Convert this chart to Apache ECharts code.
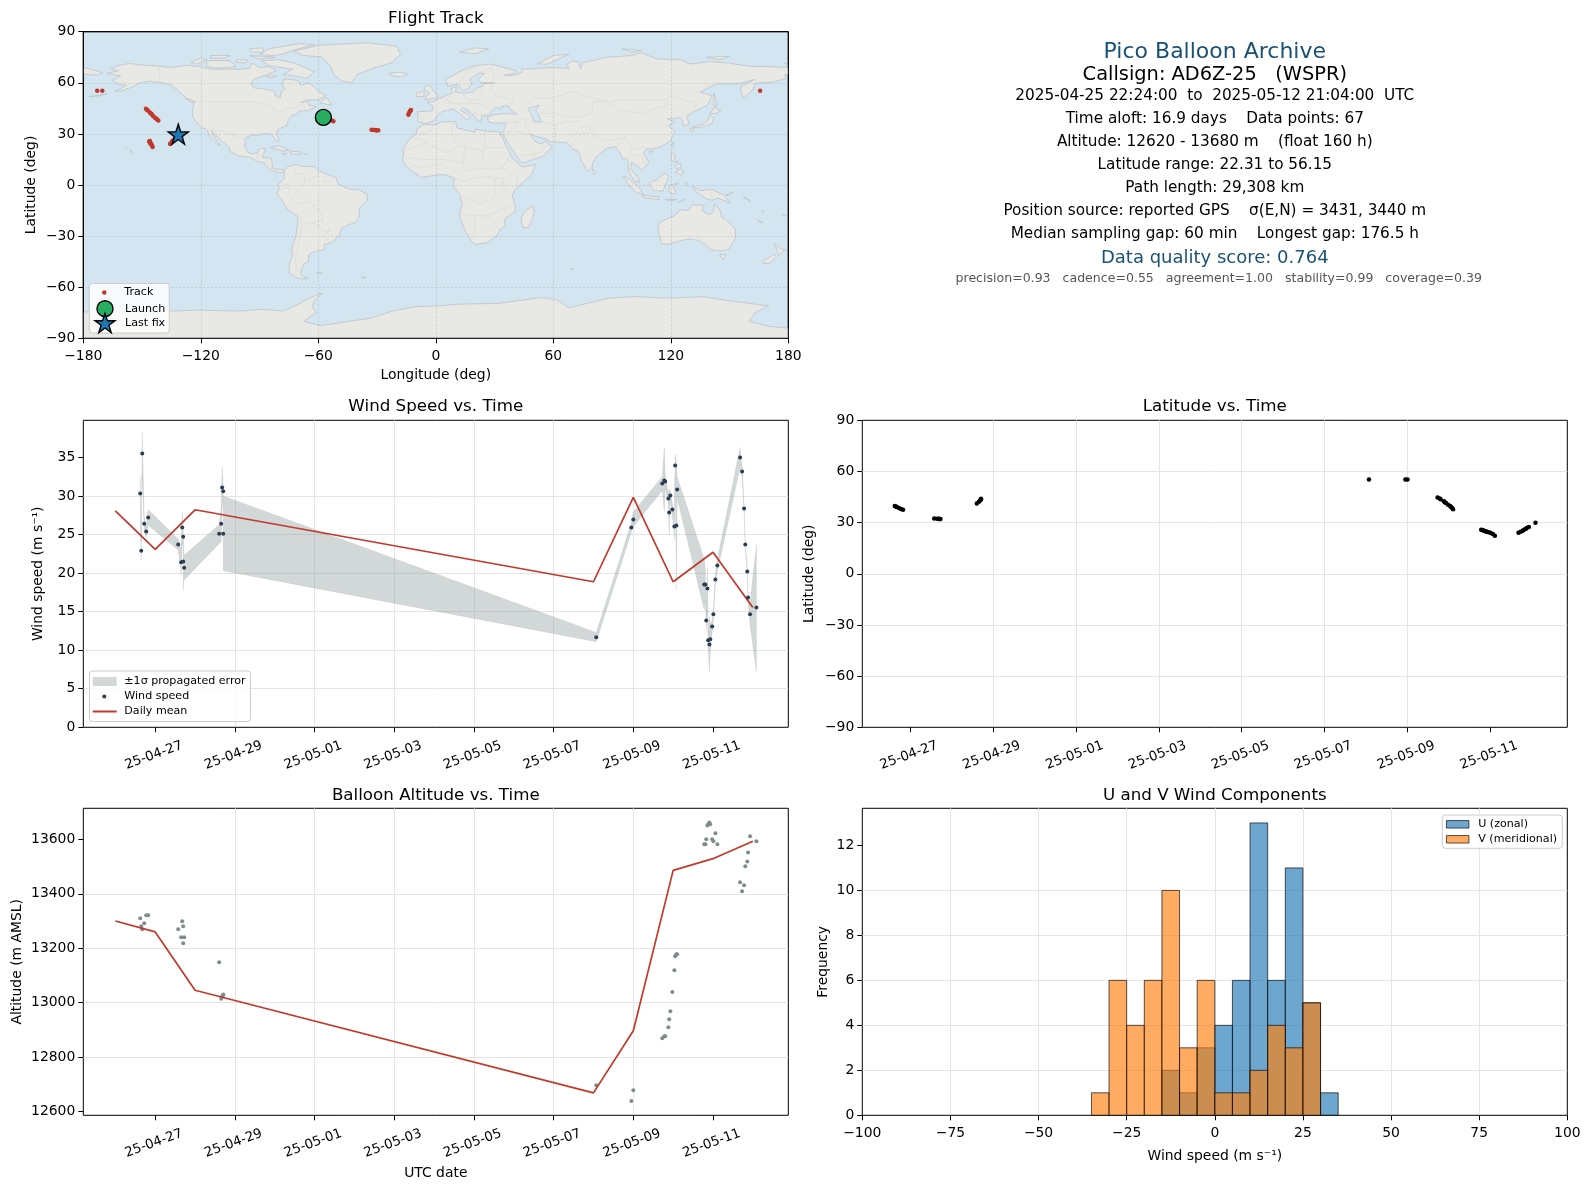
<!DOCTYPE html>
<html><head><meta charset="utf-8">
<style>html,body{margin:0;padding:0;background:#fff}#c{width:1590px;height:1189px}</style>
<script src="https://cdn.jsdelivr.net/npm/echarts@6/dist/echarts.min.js"></script>
</head><body><div id="c"></div>
<script>
// ---------- DATA ----------
const timeTickLabels = ['25-04-27','25-04-29','25-05-01','25-05-03','25-05-05','25-05-07','25-05-09','25-05-11'];
const windTicks = [0,5,10,15,20,25,30,35];
const altTicks = [12600,12800,13000,13200,13400,13600];
const freqTicks = [0,2,4,6,8,10,12];
// observation time, days after 2025-04-27 00:00 UTC
const obsDays = [-0.376,-0.351,-0.326,-0.276,-0.226,-0.176,0.577,0.652,0.677,0.702,0.703,0.727,1.605,1.656,1.68,1.706,1.707,
 11.07,11.95,12.0,12.727,12.778,12.80,12.88,12.90,12.93,12.98,13.03,13.05,13.08,13.10,
 13.78,13.81,13.83,13.86,13.88,13.91,13.93,13.98,14.01,14.06,14.11,
 14.68,14.73,14.78,14.81,14.86,14.88,14.93,15.09];
const windSpeed = [30.3,22.9,35.5,26.4,25.4,27.2,23.7,21.4,25.9,24.7,21.5,20.7,25.1,26.4,31.1,30.6,25.1,
 11.66,25.9,26.94,31.6,32.0,31.87,29.66,27.85,30.05,28.24,26.04,33.94,26.17,30.83,
 18.52,18.52,13.86,18.0,11.27,10.75,11.4,13.08,14.64,19.17,20.98,
 34.97,33.16,28.37,23.7,20.2,16.84,14.64,15.54];
const windLow = [28.1,21.6,32.7,25.5,24.6,26.2,23.0,19.7,23.9,23.3,17.7,19.1,23.8,24.1,28.5,29.6,20.3,
 11.1,25.3,26.0,30.7,27.9,31.0,28.9,24.9,29.3,27.5,24.35,32.5,17.8,29.7,
 15.2,16.5,12.6,15.2,10.3,7.1,9.4,12.3,13.8,18.4,20.2,
 33.7,32.4,27.8,23.2,19.7,16.3,13.2,7.2];
const windHigh = [32.5,24.2,38.3,27.3,26.2,28.2,24.4,23.1,27.9,26.1,25.3,22.3,26.3,28.7,33.8,31.6,30.0,
 12.3,26.5,27.9,32.5,36.3,32.7,30.4,30.8,30.8,29.0,27.7,35.4,34.5,32.5,
 21.8,20.5,15.2,20.8,12.2,14.4,13.4,13.9,15.5,20.0,21.8,
 36.3,34.0,29.0,24.2,20.7,17.4,16.1,23.75];
const altitude = [13310,13281,13270,13292,13321,13321,13270,13240,13299,13281,13218,13240,13149,13015,13023,13028,13030,
 12697,12639,12679,12870,12877,12877,12910,12939,12969,13039,13119,13171,13178,13178,
 13582,13582,13600,13651,13655,13662,13655,13600,13593,13622,13582,
 13442,13409,13431,13501,13519,13552,13611,13593];
const latitude = [39.8,39.4,39.1,38.6,38.0,37.5,32.4,32.3,32.3,32.2,32.2,32.2,41.2,42.3,43.0,43.6,44.0,
 55.3,55.3,55.3,44.7,44.1,43.7,42.5,42.0,41.5,40.5,39.7,39.2,38.6,37.8,
 25.9,25.7,25.4,25.1,25.0,24.7,24.5,24.2,23.9,23.3,22.3,
 24.0,24.6,25.3,25.8,26.4,26.8,27.4,30.0];
const longitude = [-57.4,-56.5,-55.5,-54.5,-53.3,-52.3,-32.8,-31.8,-31,-30.4,-30,-29.4,-14,-13.7,-13.3,-13,-12.7,
 165.6,-172.9,-170.3,-148,-147.5,-147,-146,-145.5,-145,-144.4,-143.5,-143,-142.4,-141.7,
 -146,-146.2,-146.1,-146,-146,-145.8,-145.6,-145.5,-145.3,-145,-144.6,
 -135.7,-135.2,-134.8,-134.4,-134,-133.4,-133,-131.5];
const launchPoint = [-57.4,39.7];
const lastFixPoint = [-131.5,29.8];
const meanDays = [-1,0,1,11,12,13,14,15];
const meanWind = [28.07,23.06,28.2,18.87,29.8,18.87,22.7,15.54];
const meanAlt = [13300,13260,13046,12669,12897,13486,13529,13593];
const histBinStart = [-35,-30,-25,-20,-15,-10,-5,0,5,10,15,20,25,30];
const uCounts = [0,0,0,0,2,1,3,4,6,13,6,11,5,1];
const vCounts = [1,6,4,6,10,3,6,1,1,2,4,3,5,0];
const infoLines = [
 'Time aloft: 16.9 days    Data points: 67',
 'Altitude: 12620 - 13680 m    (float 160 h)',
 'Latitude range: 22.31 to 56.15',
 'Path length: 29,308 km',
 'Position source: reported GPS    σ(E,N) = 3431, 3440 m',
 'Median sampling gap: 60 min    Longest gap: 176.5 h'];
// land outlines, lon/lat
const landPolygons = [
 // North America
 [[-168,65.6],[-164,66.5],[-162,67],[-166,68.3],[-162,70.2],[-156.5,71.3],[-150,70.5],[-141,69.7],[-135,69],[-128,70.2],[-120,69.5],[-115,68],[-108,68],[-100,68],[-95,68.5],[-94,71.5],[-90,69],[-85,69.5],[-81.5,67],[-87,64.5],[-93,62],[-94.5,59],[-92.5,57],[-88,56.5],[-82.5,55],[-82,52.5],[-79.5,51.2],[-79,54.5],[-77,56.5],[-78.5,59],[-77.5,62.3],[-73,62],[-70,61],[-69,58.5],[-65,60],[-62,57.5],[-60,55],[-56,52.5],[-60,50],[-66,50],[-69,48.5],[-65,49],[-65,47],[-61,46],[-65.5,43.7],[-70,43.5],[-70.5,41.7],[-74,40.6],[-75.5,37.5],[-76,35],[-78.5,33.8],[-81,32],[-81.3,30],[-80,26.5],[-81,25.2],[-82.8,28],[-84,30],[-88,30.3],[-90,29.2],[-94,29.5],[-97.2,27.5],[-97.7,22.5],[-96,19],[-94,18.2],[-91,18.8],[-90.5,21],[-87,21.5],[-88,18],[-88.5,16],[-84,15.8],[-83.5,12],[-83.5,10],[-81.5,9],[-79.5,9.5],[-77.3,8.5],[-78.2,7.5],[-80,7.3],[-83,8.2],[-85.7,10],[-87.5,13],[-91.5,14],[-94.5,16.2],[-100,17],[-105,19.5],[-105.5,22],[-109,25.5],[-112.5,29.5],[-114.7,31.5],[-113,28],[-110,23],[-112,24.5],[-115,28],[-117,32.5],[-120.5,34.5],[-122.5,37.5],[-124.3,40.5],[-124,46],[-123,49],[-127.5,51],[-131,55],[-135,58.5],[-140,60],[-146,61],[-151,60],[-154,58],[-160,55.5],[-164,54.8],[-158,58.5],[-162,59],[-165,61.5],[-161,64]],
 // Arctic Canada
 [[-80,73.5],[-72,71.5],[-67,69],[-62,66.5],[-66,62.5],[-72,64],[-78,65],[-73,68],[-85,70],[-89,73]],
 [[-117,73],[-105,73],[-102,69.5],[-113,68.5],[-117,70]],
 [[-125,72],[-120,74.5],[-117,73.5],[-122,71]],
 [[-90,76.5],[-85,80],[-70,83],[-62,82.5],[-70,80],[-78,77],[-82,76]],
 [[-95,76],[-82,75],[-90,74]],
 [[-115,76],[-105,76],[-108,74.5],[-115,74.5]],
 [[-95,80],[-88,80.5],[-88,78],[-94,78]],
 [[-102,73.5],[-96,73.5],[-97,71.5],[-102,72]],
 [[-59,48],[-56,51.5],[-53,47]],
 [[-87,64],[-81,64],[-84,62.5]],
 [[-128,50.8],[-125,50],[-123.5,48.5],[-125.5,49]],
 // Caribbean and Pacific islands
 [[-84.5,22],[-80,23],[-75,20.5],[-78,20]],
 [[-74,19.8],[-69,19.5],[-68.5,18.3],[-74,18]],
 [[-78.3,18.5],[-76.3,18.2],[-77,17.8]],
 [[-67,18.5],[-65.7,18.4],[-66.5,17.9]],
 [[-156,20.5],[-154.9,19.6],[-155.8,18.9]],
 [[-158.3,21.6],[-157.7,21.5],[-158,21.2]],
 [[-177,52],[-172,52.6],[-168,53.5],[-172,52.3]],
 // Greenland, Iceland
 [[-73,78.5],[-60,82],[-35,83.5],[-20,81.5],[-18,77],[-22,72],[-32,68.5],[-40,65],[-43,60],[-48,61],[-52,65],[-54,70],[-58,75],[-68,76.2]],
 [[-24,65.5],[-18,66.3],[-14,65],[-18,63.5],[-22,64]],
 // South America
 [[-77.3,8.5],[-75.5,10.8],[-72,12],[-68,11],[-62,10.7],[-60,8.5],[-55,6],[-51,4.5],[-50,0.5],[-44,-2.5],[-39,-3],[-35,-5.5],[-35,-9],[-39,-13.5],[-39,-18],[-41,-22],[-45,-23.5],[-48.5,-26],[-49,-29],[-53,-33.8],[-57,-35],[-57,-38],[-62,-39],[-65,-41],[-65,-45],[-67.5,-46.5],[-69,-51],[-68.5,-53],[-65.5,-55],[-70,-55],[-74.5,-52],[-75,-47],[-73,-41],[-73.5,-37],[-71.5,-30],[-70.5,-23],[-70.5,-18.5],[-76,-14],[-79,-8],[-81.3,-5],[-80,-2.5],[-80.5,0.5],[-78.5,2.5],[-77.5,4],[-77.3,7]],
 [[-61,-51.5],[-58,-51.5],[-59,-52.3]],
 // Africa
 [[-6,35.8],[-1,35.2],[3,37],[10,37.3],[11,33.5],[15,32.3],[20,31],[20,32.8],[25,31.7],[32,31.2],[34,28],[35.5,24],[37.3,20],[39.5,15],[43,12],[44,10.5],[51,12],[49,6.5],[45,2],[40.5,-3],[39,-6],[40.5,-12],[40.5,-15.5],[35,-20],[35.5,-24],[32.8,-26],[31,-30],[26,-34],[20,-34.8],[18.3,-33],[15,-27],[12,-18],[13.5,-11],[12,-5],[9,-1],[9.5,4],[5,6],[1,6],[-4,5],[-7.5,4.5],[-12,8],[-15,11],[-17,14.5],[-16.3,19],[-17,21],[-13,27.5],[-10,30],[-9.5,33]],
 [[49.3,-12],[50.4,-16],[47.5,-25],[44.5,-25],[43.5,-21],[44.5,-16.5]],
 // Eurasia
 [[-9,37],[-9.3,43],[-2,43.5],[-1,46],[-4.5,48.5],[-1,49],[2,51],[6,53],[8.5,54],[8,57],[10.5,57.5],[10,54.5],[14,54],[19,54.5],[21,57],[24,58],[24,59.5],[30,60],[23,60],[21.5,62],[25,65.5],[22,65.8],[17,62],[18.5,60],[16.5,56.5],[14,55.5],[11,59],[6,58],[5,62],[13,67],[20,70],[28,71],[33,69.5],[41,67],[40,65.5],[35,64.5],[38,64],[44,66],[44,68],[53,68.5],[60,69],[68,68.5],[67,71],[70,73],[73,72],[74,68],[75,72],[80,73],[87,75],[100,76],[105,77.5],[113,74],[125,73.5],[130,71],[140,72.5],[150,71.5],[160,69.7],[170,69.5],[180,69],[180,65],[178,64.5],[179,62.5],[172,60.5],[163,59.7],[162,56],[157,51],[155.5,56],[156,58],[163,62],[155,59.5],[143,59.3],[135,54.5],[141,52.5],[139,47],[132,43],[128,40],[129.5,36],[126.5,34.5],[126,37.5],[125,39.5],[121.5,39],[118,39],[122,37],[119,35],[122,31],[120,26],[115,22.5],[110,21],[108,21.5],[106,19],[109,13],[105,8.8],[103,11],[100,13.5],[99.5,9.5],[103.5,4],[104,1.3],[101,3],[98.5,8],[98,15],[95,16],[94,19],[91.5,22.5],[87,21.5],[82,16.5],[80,13],[79.8,10],[77.5,8],[74.5,14],[72.7,20],[70,21],[68,23.5],[66.5,25],[61,25.2],[57,25.8],[56.5,27],[51,28.5],[48,30],[50,26.5],[51.5,25],[54,24.2],[56,25.5],[59.5,22.5],[55,17],[45,13],[43,14],[39,21],[35,28],[34.7,29.5],[32.5,30],[34.5,31.3],[36,36.5],[30,36.3],[27,37],[26.3,39.7],[29,41],[35,42],[41.5,41.5],[38,44.5],[37,46.5],[33.5,46],[33,44.5],[31,46],[28,43],[28.5,41.5],[26,40.7],[23.5,40.5],[23,37],[21,38],[19.5,41],[14,45.5],[12.5,44],[18,40],[16,38],[12,42],[9,44.5],[3.5,43.3],[0.5,40.5],[-0.5,38],[-5,36]],
 [[-180,69],[-175,67.5],[-170,66],[-173,64.5],[-180,65]],
 // Europe/Asia islands
 [[-5.5,50],[1.5,51.3],[0,54],[-2,56],[-2,57.7],[-5,58.5],[-6,56],[-3,54],[-5,52]],
 [[-10,52],[-6,52],[-6,55],[-10,54]],
 [[52,71],[57,71],[68,76.8],[60,76],[55,73]],
 [[12,78],[20,80.5],[27,80],[20,77]],
 [[95,80],[105,79],[100,78]],
 [[138,75],[150,75.5],[145,73.5]],
 [[178,71.3],[180,71],[180,70.8]],
 [[142,54],[143,50],[143.5,46],[142,46.5],[142,50]],
 [[131,34],[136,35.5],[139,38],[140,41],[142,39.5],[141,36],[137,34.5],[135,33.5]],
 [[140,42],[142,45.5],[145.5,43.5],[143,42]],
 [[130,33.5],[132,33],[131,31],[130,31.5]],
 [[120,23],[121.5,25.2],[121,22]],
 [[109,19.8],[111,19.7],[109.5,18.2]],
 [[120,16],[120.5,18.5],[122,18.3],[122,14.5],[124,13],[121,13.7]],
 [[122,7.5],[125.5,9.5],[126.5,7],[125,5.8]],
 [[122,11.5],[125,12.5],[125,10.5],[123,9.5]],
 [[80,9.5],[82,7.5],[80.5,6]],
 [[95.5,5.5],[98,4],[104,-1.5],[106,-5.8],[102,-4],[98,1]],
 [[105.5,-6],[114,-7],[114,-8.5],[106,-7.5]],
 [[109,1.5],[113,3.2],[117,7],[119,5],[117.5,1],[116,-3.8],[111,-3],[109.5,-0.5]],
 [[119.5,0],[124,1],[121,-1],[123,-4.5],[120.5,-5.5],[119,-3]],
 [[131,-0.8],[135,-3.3],[141,-2.6],[147,-6],[150.5,-10.5],[144,-7.7],[141,-9],[138,-8],[133,-4]],
 [[124,-10],[127,-8.5],[125,-9.7]],
 [[117,-8.5],[120,-8.5],[123,-8.5],[120,-9.5]],
 [[127.5,2],[128.5,1],[128,-0.5]],
 [[148,-6],[152,-4],[150,-6]],
 [[157,-7],[161,-10],[159,-8]],
 [[166.5,-15],[167.5,-16],[167,-15]],
 [[164,-20],[167,-22.3],[165,-21.5]],
 [[177,-17.5],[178.5,-18],[177.5,-18.3]],
 // Oceania
 [[114,-22],[113.5,-26],[115,-34.3],[118,-35],[124,-33],[129,-31.7],[134,-32.5],[138,-35],[140,-38],[144,-38.5],[147,-38.5],[150,-37.5],[153,-31],[153,-26],[149,-21],[146,-19],[145,-14.5],[142.5,-11],[141.5,-16],[139.5,-17.5],[136,-15],[136.5,-12],[131,-11.5],[129,-15],[125,-14.5],[122,-18],[117,-20.5]],
 [[145,-40.8],[148,-41],[147,-43.5],[145.5,-42.5]],
 [[172.7,-34.5],[176,-37.5],[178.5,-38],[175,-41.5],[174.5,-39]],
 [[172.5,-40.8],[174,-42],[170.5,-46],[167,-46],[168,-44]],
 [[69,-49],[70.5,-49],[70,-49.7]],
 [[-38,-54],[-36,-54.2],[-37,-54.7]],
 // Antarctica
 [[-180,-90],[-180,-74.5],[-150,-74.5],[-120,-73.5],[-100,-74],[-88,-73],[-78,-74],[-70,-70],[-65,-66.5],[-57.5,-63.3],[-60,-65.5],[-62,-68],[-63,-72],[-61,-75],[-67.5,-80],[-59,-82.6],[-44,-80],[-33.6,-78.3],[-22,-74],[-9.8,-71.4],[2,-71],[10,-70],[32,-69.5],[54,-66],[62,-67.5],[68,-72],[72,-71],[88,-66.5],[102,-65.5],[120,-66.5],[136,-65.5],[150,-68],[170,-71],[163,-75],[160,-80],[170,-83],[180,-84],[180,-90]]
];
const inlandSeas = [
 [[47,45],[53,46.8],[51,44],[53,40],[54,37],[50,37.2],[49,41]]
];
const borderLines = [
 [[-141,69.7],[-141,60]],[[-123,49],[-95,49],[-89,48],[-83,46],[-82,42.5],[-79,43.3],[-75,45],[-70,46],[-67.5,47.2],[-67,45]],
 [[-117,32.5],[-108,31.5],[-104,29.5],[-100,28],[-97.2,26]],[[-92,14.6],[-91,17.5],[-89,18]],[[-88,13.5],[-85,15]],[[-84,11],[-83.5,11]],
 [[-72,12],[-72,7],[-67,6],[-67,1.5],[-70,-4],[-74,-8],[-70,-11],[-65,-10],[-60,-14],[-58,-19],[-58,-22],[-55,-24],[-54,-27],[-57.5,-30],[-53.5,-33.5]],
 [[-60,8.5],[-60,5],[-64,4],[-67,1.5]],[[-78,0.5],[-75,0],[-70,-4]],[[-80,-3.5],[-75,-1],[-75,-4]],[[-70,-18],[-68,-23],[-70,-33],[-72,-45],[-70,-52]],
 [[-62,-22],[-67,-22.5]],[[-58,-20],[-62,-22],[-58,-27],[-54,-27]],[[-57,6],[-57,2],[-54,2],[-51,4]],
 [[-9,42],[-7,41],[-7,37]],[[-2,43.5],[3,42.5]],[[2,51],[6,49.5],[8,48],[7,44]],[[7,53.5],[6,50],[8,48],[13,47.5],[17,48],[22,48],[27,45],[28.5,43.5]],[[14,54],[15,51],[19,49.5],[23,51],[24,54],[21,55.5]],[[28,71],[30,62],[28,56],[31,52],[40,50],[38,47]],[[12,60],[18,68],[21,69]],[[22,66],[29,69]],
 [[28,41.8],[22,41],[20,42.5],[14,45.5]],
 [[-9,29],[-2,32],[-1.5,35]],[[-13,27.5],[-8,27],[5,19],[12,23],[25,20],[25,31.7]],[[9,37],[8,30],[12,23.5]],[[-17,21],[-13,21],[-5,25]],[[-16,16],[-5,15],[4,15],[14,13],[15,23]],[[-12,12],[-8,10],[-3,11],[2,12],[4,13]],[[25,22],[37,22]],[[24,12],[24,20]],[[14,13],[15,8],[22,10],[28,9],[34,10],[36,14],[38,18]],[[43,11],[40,15],[36,14]],[[34,10],[42,4],[41,-2]],[[30,4],[35,4],[34,-1],[39,-5]],[[9,4],[14,2],[18,4],[28,5],[30,4],[30,-8],[22,-11],[13,-6]],[[12,-17],[22,-18],[25,-18],[33,-15],[40.5,-11]],[[20,-18],[20,-28],[17,-29]],[[25,-18],[30,-22],[32,-26]],
 [[36,36.5],[42,37],[45,39],[48,38.5]],[[35,31],[39,32],[47,29.5]],[[42,37],[39,32]],[[46,39],[46,34],[48,30]],[[61,25.2],[61,35],[54,37.5]],[[61,35],[66,37],[74,37.5]],[[66.5,25.5],[70,28],[74,34],[78,35]],[[70,21],[70,25],[74,30],[79,31],[81,28],[88,26],[97,28],[92,22]],[[78,35],[80,31]],
 [[48,46],[52,42],[60,42],[68,40],[74,40],[80,42],[80,49],[87,49],[80,51],[70,55],[60,51],[50,51],[47,48]],[[87,49],[98,50],[107,50],[118,50],[120,53],[127,50],[134,48],[131,43]],[[87,49],[95,44],[105,42],[112,45],[118,47],[118,50]],[[97,28],[100,21],[106,22],[108,21.5]],[[100,21],[98,15]],[[101,18],[105,17],[107,12]],[[125,40],[130,42.5]],[[46,13],[52,19],[56,22],[54,24.2]],[[43,17],[52,19]],[[110,2],[115,2],[117,4.5]],[[141,-2.6],[141,-9]]
];

// ---------- HELPERS ----------
const DAY = 864e5, DAY0 = Date.UTC(2025,3,27);
const toMs = d => DAY0 + d*DAY;
const timeTicks = timeTickLabels.map(s => Date.parse('20'+s+'T00:00:00Z'));
const FONT = 'DejaVu Sans';
const GRID_COLOR = '#e5e5e5';
const minus = v => String(v).replace('-','\u2212');
const L = [83.3,862.3], W = 705, H = 307;
const T = [420.3,808.3];
const grids = [
 {left:L[0],top:31.7,width:W,height:306.6},
 {left:L[0],top:T[0],width:W,height:H},
 {left:L[1],top:T[0],width:W,height:H},
 {left:L[0],top:T[1],width:W,height:H},
 {left:L[1],top:T[1],width:W,height:H}
].map(g => ({...g,show:true,borderColor:'#000',borderWidth:1,backgroundColor:'transparent',containLabel:false}));
grids[0].backgroundColor = '#d3e5f1';

const hideEnds = {showMinLine:false,showMaxLine:false};
const axisBase = {
 axisLine:{show:false,onZero:false}, axisTick:{show:true,length:5,lineStyle:{color:'#000',width:1}},
 axisLabel:{color:'#000',fontFamily:FONT,fontSize:13.9,margin:11},
 splitLine:{show:true,...hideEnds,lineStyle:{color:GRID_COLOR,width:1}},
 nameTextStyle:{color:'#000',fontFamily:FONT,fontSize:13.9}, nameLocation:'middle', nameMoveOverlap:false
};
const yLabel = {margin:8,padding:[5.5,0,0,0]};
const mergeAxis = (o,lbl,tick) => ({...axisBase,...o,
 axisTick:{...axisBase.axisTick,...(tick||{})},
 axisLabel:{...axisBase.axisLabel,...(lbl||{})}});
const timeAxis = (gridIndex,minD,maxD,name) => mergeAxis({
 type:'value',gridIndex,min:toMs(minD),max:toMs(maxD),name:name||'',nameGap:51
},{customValues:timeTicks,rotate:20,align:'center',verticalAlign:'middle',margin:27.5,padding:[0,3,0,0],fontSize:13.3,hideOverlap:false,
   formatter:v=>new Date(+v).toISOString().slice(2,10)},{customValues:timeTicks});
const customY = (gridIndex,min,max,ticks,name,gap) => mergeAxis({
 type:'value',gridIndex,min,max,name,nameGap:gap
},{...yLabel,customValues:ticks,formatter:v=>String(v)},{customValues:ticks});
const mapGrid = {show:true,...hideEnds,lineStyle:{color:'rgba(120,120,120,0.22)',width:1,type:[2,2]}};

const ms = a => a.map(toMs);
const zip = (a,b) => a.map((v,i)=>[v,b[i]]);

// legend helper: one entry placed by the centre of its icon
function legendEntry(name,cx,cy,w,h,textX,extra){
 const tall = Math.max(h,13);
 return {show:true,data:[{name,...(extra||{})}],orient:'vertical',left:cx-w/2,top:cy-tall/2,padding:0,
  itemWidth:w,itemHeight:h,selectedMode:false,z:6,
  textStyle:{fontFamily:FONT,fontSize:11.1,color:'#000',lineHeight:13,padding:[0,0,0,textX-(cx+w/2)-5]}};
}
const starIcon = 'path://M50 0 L61.8 35.5 L98.5 35.5 L68.8 57.5 L80 93 L50 71 L20 93 L31.2 57.5 L1.5 35.5 L38.2 35.5 Z';
const legendBox = (x,y,w,h)=>({type:'rect',z:5,shape:{x,y,width:w,height:h,r:3},
  style:{fill:'rgba(255,255,255,0.82)',stroke:'#ccc',lineWidth:1},silent:true});
const blockTitle = (text,cx,cy,size,color) => ({text,left:cx,top:cy-size*0.6,textAlign:'center',padding:0,
  textStyle:{fontFamily:FONT,fontSize:size,fontWeight:'normal',color:color||'#000'}});
const HEAD = '#1a5276';
const cx0 = L[0]+W/2, cx1 = L[1]+W/2;
const rowY = [98,121,144,167,190,213,236];
const patch = (color)=>({icon:'rect',itemStyle:{color,borderColor:'#000',borderWidth:1,opacity:0.65}});

const option = {
 animation:false, backgroundColor:'#fff',
 textStyle:{fontFamily:FONT},
 grid:grids,
 title:[
  blockTitle('Flight Track',cx0,20,16.7),
  blockTitle('Wind Speed vs. Time',cx0,408.5,16.7),
  blockTitle('Latitude vs. Time',cx1,408.5,16.7),
  blockTitle('Balloon Altitude vs. Time',cx0,797.5,16.7),
  blockTitle('U and V Wind Components',cx1,797.5,16.7),
  blockTitle('Pico Balloon Archive',cx1,54,22,HEAD),
  blockTitle('Callsign: AD6Z-25   (WSPR)',cx1,77,19.4),
  blockTitle('2025-04-25 22:24:00  to  2025-05-12 21:04:00  UTC',cx1,rowY[0],15.28),
  ...infoLines.map((t,i)=>blockTitle(t,cx1,rowY[i+1],15.28)),
  blockTitle('Data quality score: 0.764',cx1,260,18,HEAD),
  blockTitle('precision=0.93   cadence=0.55   agreement=1.00   stability=0.99   coverage=0.39',cx1+4,280,12.55,'#555')
 ],
 xAxis:[
  mergeAxis({type:'value',gridIndex:0,min:-180,max:180,interval:60,name:'Longitude (deg)',nameGap:30,z:3,splitLine:mapGrid},{formatter:minus}),
  timeAxis(1,-1.805,15.89),
  timeAxis(2,-1.159,15.858),
  timeAxis(3,-1.805,15.89,'UTC date'),
  mergeAxis({type:'value',gridIndex:4,min:-100,max:100,interval:25,name:'Wind speed (m s\u207B\u00B9)',nameGap:34.5},{formatter:minus})
 ],
 yAxis:[
  mergeAxis({type:'value',gridIndex:0,min:-90,max:90,interval:30,name:'Latitude (deg)',nameGap:45,z:3,splitLine:mapGrid},{...yLabel,formatter:minus}),
  customY(1,0,39.8,windTicks,'Wind speed (m s\u207B\u00B9)',37.8),
  mergeAxis({type:'value',gridIndex:2,min:-90,max:90,interval:30,name:'Latitude (deg)',nameGap:46},{...yLabel,formatter:minus}),
  customY(3,12586.6,13714,altTicks,'Altitude (m AMSL)',59),
  customY(4,0,13.65,freqTicks,'Frequency',32)
 ],
 legend:[
  legendEntry('Track',104.3,292.5,4.5,4.5,124.3,{icon:'circle',itemStyle:{color:'#c0392b',opacity:1}}),
  legendEntry('Launch',104.3,308,16,16,124.3,{icon:'circle',itemStyle:{color:'#27ae60',borderColor:'#000',borderWidth:1.4,opacity:1}}),
  legendEntry('Last fix',104.3,322.7,20,20,124.3,{icon:starIcon,itemStyle:{color:'#1f77b4',borderColor:'#000',borderWidth:1.4,opacity:1}}),
  legendEntry('\u00B11\u03C3 propagated error',104.7,681.5,24,9,124.3,{icon:'rect',itemStyle:{color:'rgba(127,140,141,0.35)'}}),
  legendEntry('Wind speed',104.3,696.5,4,4,124.3,{icon:'circle',itemStyle:{color:'#2c3e50',opacity:1}}),
  legendEntry('Daily mean',104.7,711.5,24,2,124.3,{icon:'rect',itemStyle:{color:'#c0392b',opacity:1}}),
  legendEntry('U (zonal)',1457.2,824.3,22.5,7.5,1477.7,patch('#1f77b4')),
  legendEntry('V (meridional)',1457.2,839.3,22.5,7.5,1477.7,patch('#ff7f0e'))
 ],
 graphic:[
  {type:'rect',z:4,silent:true,shape:{x:L[0],y:31.7,width:W,height:306.6},style:{fill:null,stroke:'#000',lineWidth:1}},
  legendBox(89.3,283.5,80,49.5),
  legendBox(89.5,671,161,50.5),
  legendBox(1442.3,815,120,33.3)
 ],
 series:[
  {type:'custom',name:'Land',coordinateSystem:'cartesian2d',xAxisIndex:0,yAxisIndex:0,z:1,silent:true,
   data:landPolygons.map((p,i)=>[p[0][0],p[0][1],i]),encode:{x:0,y:1},
   renderItem:(params,api)=>({type:'polygon',shape:{points:landPolygons[api.value(2)].map(p=>api.coord(p))},
     style:{fill:'#e8e8e4',stroke:'#bfc3c7',lineWidth:0.8}})},
  {type:'custom',name:'Inland seas',coordinateSystem:'cartesian2d',xAxisIndex:0,yAxisIndex:0,z:1,silent:true,
   data:inlandSeas.map((p,i)=>[p[0][0],p[0][1],i]),encode:{x:0,y:1},
   renderItem:(params,api)=>({type:'polygon',shape:{points:inlandSeas[api.value(2)].map(p=>api.coord(p))},
     style:{fill:'#d3e5f1',stroke:'#bfc3c7',lineWidth:0.8}})},
  {type:'custom',name:'Borders',coordinateSystem:'cartesian2d',xAxisIndex:0,yAxisIndex:0,z:1,silent:true,
   data:borderLines.map((p,i)=>[p[0][0],p[0][1],i]),encode:{x:0,y:1},
   renderItem:(params,api)=>({type:'polyline',shape:{points:borderLines[api.value(2)].map(p=>api.coord(p))},
     style:{fill:'none',stroke:'#dcdddb',lineWidth:0.8}})},
  {type:'scatter',name:'Track',xAxisIndex:0,yAxisIndex:0,z:5,symbolSize:4.5,itemStyle:{color:'#c0392b',opacity:1},data:zip(longitude,latitude)},
  {type:'scatter',name:'Launch',xAxisIndex:0,yAxisIndex:0,z:5,symbolSize:16,itemStyle:{color:'#27ae60',borderColor:'#000',borderWidth:1.4,opacity:1},data:[launchPoint]},
  {type:'scatter',name:'Last fix',xAxisIndex:0,yAxisIndex:0,z:5,symbol:starIcon,symbolSize:20,itemStyle:{color:'#1f77b4',borderColor:'#000',borderWidth:1.4,opacity:1},data:[lastFixPoint]},

  {type:'custom',name:'\u00B11\u03C3 propagated error',coordinateSystem:'cartesian2d',xAxisIndex:1,yAxisIndex:1,z:2,silent:true,
   itemStyle:{color:'rgba(127,140,141,0.35)'},
   data:[[toMs(obsDays[0]),windHigh[0]]],encode:{x:0,y:1},
   renderItem:(params,api)=>{
     const upper = obsDays.map((d,i)=>api.coord([toMs(d),windHigh[i]]));
     const lower = obsDays.map((d,i)=>api.coord([toMs(d),windLow[i]])).reverse();
     return {type:'polygon',shape:{points:upper.concat(lower)},style:{fill:'rgba(127,140,141,0.35)',stroke:'rgba(127,140,141,0.15)',lineWidth:0.8}};
   }},
  {type:'scatter',name:'Wind speed',xAxisIndex:1,yAxisIndex:1,z:4,symbolSize:4,itemStyle:{color:'#2c3e50',opacity:1},data:zip(ms(obsDays),windSpeed)},
  {type:'line',name:'Daily mean',xAxisIndex:1,yAxisIndex:1,z:3,symbol:'none',lineStyle:{color:'#c0392b',width:1.7},itemStyle:{color:'#c0392b'},data:zip(ms(meanDays),meanWind)},

  {type:'scatter',name:'Latitude',xAxisIndex:2,yAxisIndex:2,z:4,symbolSize:4.5,itemStyle:{color:'#000',opacity:1},data:zip(ms(obsDays),latitude)},

  {type:'scatter',name:'Altitude',xAxisIndex:3,yAxisIndex:3,z:3,symbolSize:4,itemStyle:{color:'#7f8c8d',opacity:1},data:zip(ms(obsDays),altitude)},
  {type:'line',name:'Daily mean altitude',xAxisIndex:3,yAxisIndex:3,z:4,symbol:'none',lineStyle:{color:'#c0392b',width:1.7},data:zip(ms(meanDays),meanAlt)},

  ...[['U (zonal)',uCounts,'#1f77b4'],['V (meridional)',vCounts,'#ff7f0e']].map(([name,counts,color])=>({
   type:'custom',name,coordinateSystem:'cartesian2d',xAxisIndex:4,yAxisIndex:4,z:3,silent:true,
   itemStyle:{color,opacity:0.65,borderColor:'#000',borderWidth:1},
   data:histBinStart.map((b,i)=>[b,b+5,counts[i]]).filter(d=>d[2]>0),encode:{x:[0,1],y:2},
   renderItem:(params,api)=>{
     const a = api.coord([api.value(0),api.value(2)]), b = api.coord([api.value(1),0]);
     return {type:'rect',shape:{x:a[0],y:a[1],width:b[0]-a[0],height:b[1]-a[1]},
       style:{fill:color,stroke:'#000',lineWidth:1,opacity:0.65}};
   }}))
 ]
};
const chart = echarts.init(document.getElementById('c'),null,{renderer:'canvas',width:1590,height:1189});
chart.setOption(option);
</script></body></html>
